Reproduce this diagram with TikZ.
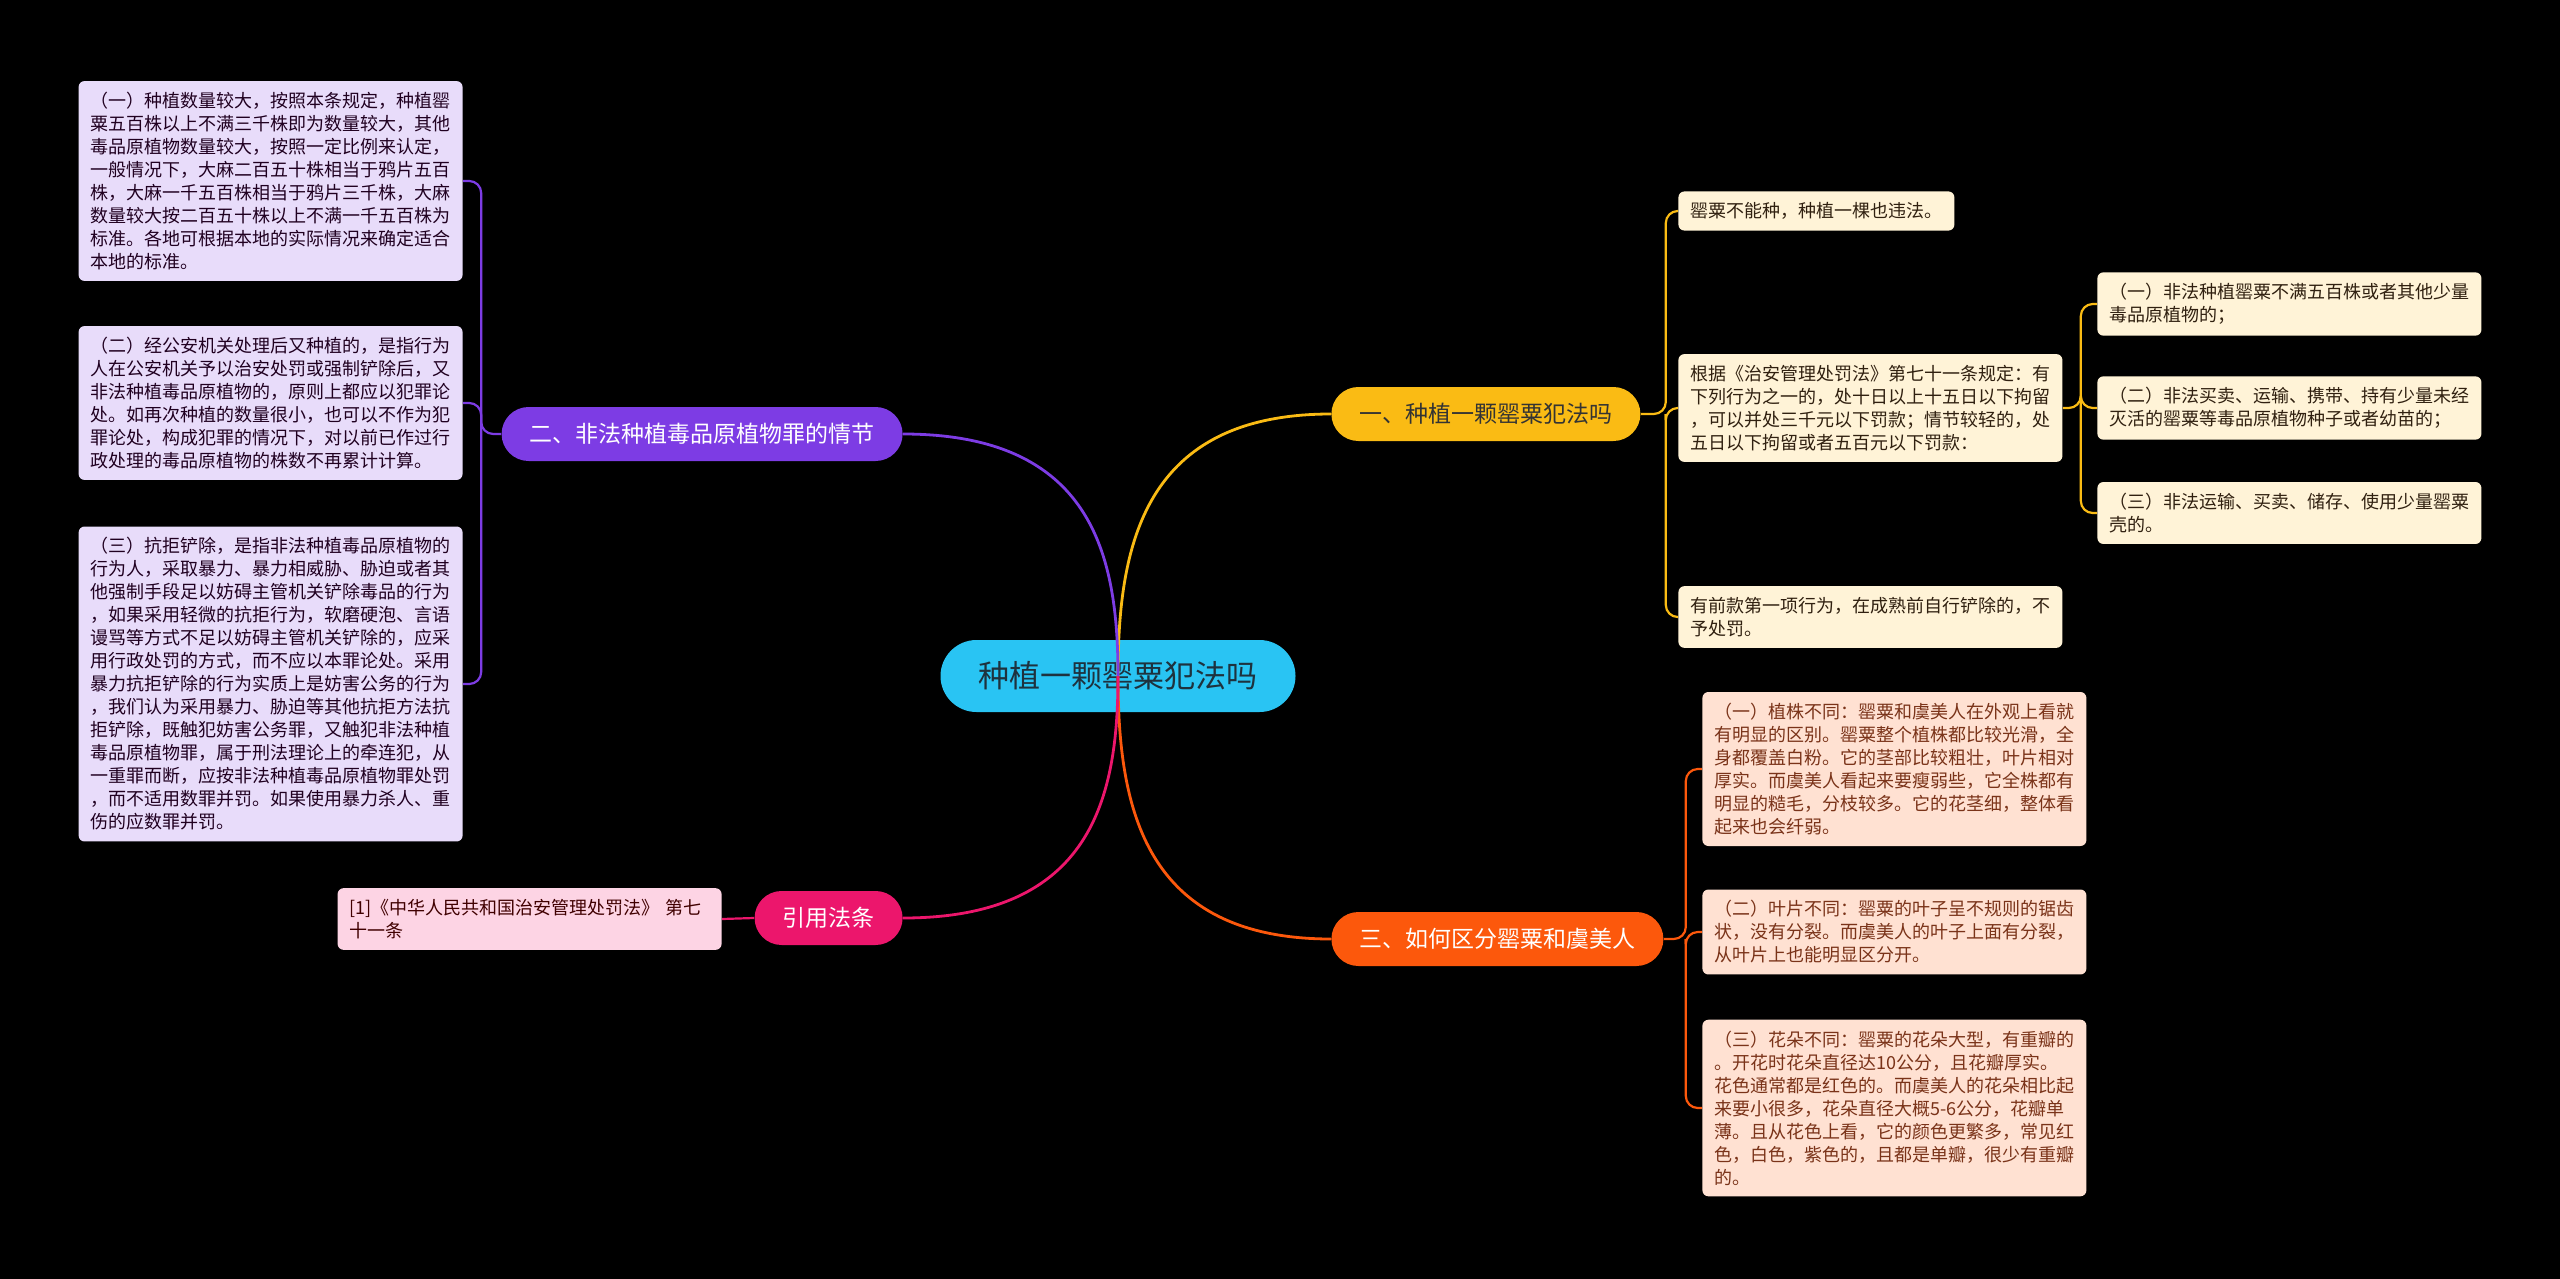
\documentclass[tikz,border=0pt]{standalone}
\usepackage{fontspec}
\setmainfont{Noto Sans CJK SC}
\usetikzlibrary{calc, positioning, backgrounds}

\definecolor{rootblue}{RGB}{41,196,243}
\definecolor{roottext}{RGB}{30,50,62}
\definecolor{topicyellow}{RGB}{250,187,20}
\definecolor{topicorange}{RGB}{252,88,12}
\definecolor{topicpurple}{RGB}{125,60,228}
\definecolor{topicpink}{RGB}{236,22,108}
\definecolor{leafpurple}{RGB}{232,220,250}
\definecolor{leafpink}{RGB}{253,212,228}
\definecolor{leafyellow}{RGB}{255,243,215}
\definecolor{leaforange}{RGB}{255,225,210}

\begin{document}
\begin{tikzpicture}[
    x=0.5pt, y=-0.5pt,
    every node/.style={font=\fontsize{9}{11.5}\selectfont},
    root node/.style={rectangle, fill=rootblue, text=roottext, rounded corners=18pt, minimum height=36pt, inner xsep=19pt, font=\fontsize{15.5}{18}\selectfont},
    topic node/.style={rectangle, rounded corners=13.5pt, minimum height=27pt, inner xsep=14pt, text=white, font=\fontsize{11.5}{14}\selectfont},
    leaf node/.style={rectangle, rounded corners=3pt, align=left, inner xsep=6pt, inner ysep=5.5pt},
    wide/.style={text width=180pt},
    main link/.style={line width=1.4pt},
    leaf link/.style={line width=1.1pt, rounded corners=6pt}
]
% Black page
\begin{scope}[on background layer]
    \fill[black] (0,0) rectangle (2560,1279);
\end{scope}

% Root node
\node[root node] (Root) at (1118,676) {种植一颗罂粟犯法吗};

% Topic nodes
\node[topic node, fill=topicyellow, text=black!80, anchor=west] (Legal) at (1331,414) {一、种植一颗罂粟犯法吗};
\node[topic node, fill=topicorange, anchor=west] (Differ) at (1331,939) {三、如何区分罂粟和虞美人};
\node[topic node, fill=topicpurple, anchor=east] (Plot) at (903,434) {二、非法种植毒品原植物罪的情节};
\node[topic node, fill=topicpink, anchor=east] (Cite) at (903,918) {引用法条};

% Leaves of Legal
\node[leaf node, fill=leafyellow, text=black!75!brown, anchor=west] (Legal_A) at (1678,211) {罂粟不能种，种植一棵也违法。};
\node[leaf node, wide, fill=leafyellow, text=black!75!brown, anchor=west] (Legal_B) at (1678,408) {根据《治安管理处罚法》第七十一条规定：有\\下列行为之一的，处十日以上十五日以下拘留\\，可以并处三千元以下罚款；情节较轻的，处\\五日以下拘留或者五百元以下罚款：};
\node[leaf node, wide, fill=leafyellow, text=black!75!brown, anchor=west] (Legal_C) at (1678,617) {有前款第一项行为，在成熟前自行铲除的，不\\予处罚。};
\node[leaf node, wide, fill=leafyellow, text=black!75!brown, anchor=west] (Legal_B1) at (2097,304) {（一）非法种植罂粟不满五百株或者其他少量\\毒品原植物的；};
\node[leaf node, wide, fill=leafyellow, text=black!75!brown, anchor=west] (Legal_B2) at (2097,408) {（二）非法买卖、运输、携带、持有少量未经\\灭活的罂粟等毒品原植物种子或者幼苗的；};
\node[leaf node, wide, fill=leafyellow, text=black!75!brown, anchor=west] (Legal_B3) at (2097,513) {（三）非法运输、买卖、储存、使用少量罂粟\\壳的。};

% Leaves of Differ
\node[leaf node, wide, fill=leaforange, text=black!70!red!60!brown, anchor=west] (Differ_A) at (1702,769) {（一）植株不同：罂粟和虞美人在外观上看就\\有明显的区别。罂粟整个植株都比较光滑，全\\身都覆盖白粉。它的茎部比较粗壮，叶片相对\\厚实。而虞美人看起来要瘦弱些，它全株都有\\明显的糙毛，分枝较多。它的花茎细，整体看\\起来也会纤弱。};
\node[leaf node, wide, fill=leaforange, text=black!70!red!60!brown, anchor=west] (Differ_B) at (1702,932) {（二）叶片不同：罂粟的叶子呈不规则的锯齿\\状，没有分裂。而虞美人的叶子上面有分裂，\\从叶片上也能明显区分开。};
\node[leaf node, wide, fill=leaforange, text=black!70!red!60!brown, anchor=west] (Differ_C) at (1702,1108) {（三）花朵不同：罂粟的花朵大型，有重瓣的\\。开花时花朵直径达10公分，且花瓣厚实。\\花色通常都是红色的。而虞美人的花朵相比起\\来要小很多，花朵直径大概5-6公分，花瓣单\\薄。且从花色上看，它的颜色更繁多，常见红\\色，白色，紫色的，且都是单瓣，很少有重瓣\\的。};

% Leaves of Plot
\node[leaf node, wide, fill=leafpurple, text=black!75!violet, anchor=east] (Plot_A) at (463,181) {（一）种植数量较大，按照本条规定，种植罂\\粟五百株以上不满三千株即为数量较大，其他\\毒品原植物数量较大，按照一定比例来认定，\\一般情况下，大麻二百五十株相当于鸦片五百\\株，大麻一千五百株相当于鸦片三千株，大麻\\数量较大按二百五十株以上不满一千五百株为\\标准。各地可根据本地的实际情况来确定适合\\本地的标准。};
\node[leaf node, wide, fill=leafpurple, text=black!75!violet, anchor=east] (Plot_B) at (463,403) {（二）经公安机关处理后又种植的，是指行为\\人在公安机关予以治安处罚或强制铲除后，又\\非法种植毒品原植物的，原则上都应以犯罪论\\处。如再次种植的数量很小，也可以不作为犯\\罪论处，构成犯罪的情况下，对以前已作过行\\政处理的毒品原植物的株数不再累计计算。};
\node[leaf node, wide, fill=leafpurple, text=black!75!violet, anchor=east] (Plot_C) at (463,684) {（三）抗拒铲除，是指非法种植毒品原植物的\\行为人，采取暴力、暴力相威胁、胁迫或者其\\他强制手段足以妨碍主管机关铲除毒品的行为\\，如果采用轻微的抗拒行为，软磨硬泡、言语\\谩骂等方式不足以妨碍主管机关铲除的，应采\\用行政处罚的方式，而不应以本罪论处。采用\\暴力抗拒铲除的行为实质上是妨害公务的行为\\，我们认为采用暴力、胁迫等其他抗拒方法抗\\拒铲除，既触犯妨害公务罪，又触犯非法种植\\毒品原植物罪，属于刑法理论上的牵连犯，从\\一重罪而断，应按非法种植毒品原植物罪处罚\\，而不适用数罪并罚。如果使用暴力杀人、重\\伤的应数罪并罚。};

% Leaf of Cite
\node[leaf node, wide, fill=leafpink, text=black!75!red, anchor=east] (Cite_A) at (722,919) {[1]《中华人民共和国治安管理处罚法》 第七\\十一条};

% Main curves, over the root node
\draw[main link, topicyellow] (Root.center) .. controls ($(Root.center)!0.5!(Root.center |- Legal.west)$) and ($(Legal.west)!0.88!(Root.center |- Legal.west)$) .. (Legal.west);
\draw[main link, topicorange] (Root.center) .. controls ($(Root.center)!0.5!(Root.center |- Differ.west)$) and ($(Differ.west)!0.88!(Root.center |- Differ.west)$) .. (Differ.west);
\draw[main link, topicpurple] (Root.center) .. controls ($(Root.center)!0.5!(Root.center |- Plot.east)$) and ($(Plot.east)!0.88!(Root.center |- Plot.east)$) .. (Plot.east);
\draw[main link, topicpink] (Root.center) .. controls ($(Root.center)!0.5!(Root.center |- Cite.east)$) and ($(Cite.east)!0.88!(Root.center |- Cite.east)$) .. (Cite.east);

% Leaf connectors, behind the nodes
\begin{scope}[on background layer]
    \coordinate (Legal_J) at ($(Legal.east)+(25,0)$);
    \coordinate (Sub_J) at ($(Legal_B.east)+(18,0)$);
    \coordinate (Differ_J) at ($(Differ.east)+(22,0)$);
    \coordinate (Plot_J) at ($(Plot.west)+(-20,0)$);

    \draw[leaf link, topicyellow] (Legal.east) -- (Legal_J) |- (Legal_A.west);
    \draw[leaf link, topicyellow] (Legal_J) |- (Legal_B.west);
    \draw[leaf link, topicyellow] (Legal_J) |- (Legal_C.west);
    \draw[leaf link, topicyellow] (Legal_B.east) -- (Sub_J) |- (Legal_B1.west);
    \draw[leaf link, topicyellow] (Sub_J) |- (Legal_B2.west);
    \draw[leaf link, topicyellow] (Sub_J) |- (Legal_B3.west);

    \draw[leaf link, topicorange] (Differ.east) -- (Differ_J) |- (Differ_A.west);
    \draw[leaf link, topicorange] (Differ_J) |- (Differ_B.west);
    \draw[leaf link, topicorange] (Differ_J) |- (Differ_C.west);

    \draw[leaf link, topicpurple] (Plot.west) -- (Plot_J) |- (Plot_A.east);
    \draw[leaf link, topicpurple] (Plot_J) |- (Plot_B.east);
    \draw[leaf link, topicpurple] (Plot_J) |- (Plot_C.east);

    \draw[leaf link, topicpink] (Cite.west) -- (Cite_A.east);
\end{scope}
\end{tikzpicture}
\end{document}
